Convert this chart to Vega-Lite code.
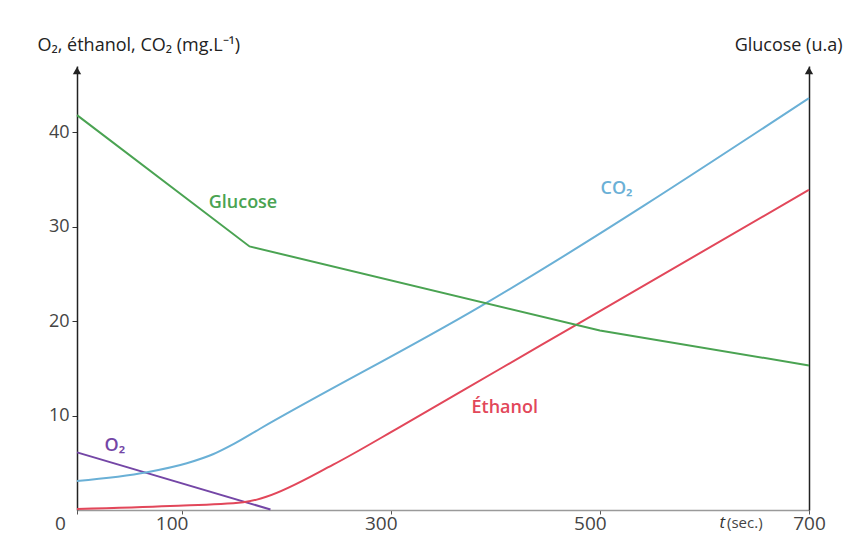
{
  "$schema": "https://vega.github.io/schema/vega-lite/v6.json",
  "width": 732,
  "height": 444,
  "autosize": {"type": "none"},
  "padding": {"left": 77, "top": 66, "right": 50, "bottom": 40},
  "background": "white",
  "config": {
    "font": "Open Sans",
    "view": {"stroke": null},
    "axis": {"grid": false}
  },
  "datasets": {
    "curves": [
      {"t": 0, "value": 6.1, "series": "O2"},
      {"t": 185, "value": 0.05, "series": "O2"},
      {"t": 0, "value": 0.1, "series": "Ethanol"},
      {"t": 89, "value": 0.42, "series": "Ethanol"},
      {"t": 159, "value": 0.82, "series": "Ethanol"},
      {"t": 172, "value": 1.1, "series": "Ethanol"},
      {"t": 181, "value": 1.4, "series": "Ethanol"},
      {"t": 245, "value": 4.8, "series": "Ethanol"},
      {"t": 309, "value": 8.8, "series": "Ethanol"},
      {"t": 404, "value": 14.9, "series": "Ethanol"},
      {"t": 479, "value": 19.7, "series": "Ethanol"},
      {"t": 700, "value": 33.9, "series": "Ethanol"},
      {"t": 0, "value": 3.07, "series": "CO2"},
      {"t": 67, "value": 4.0, "series": "CO2"},
      {"t": 105, "value": 4.95, "series": "CO2"},
      {"t": 130, "value": 5.9, "series": "CO2"},
      {"t": 150, "value": 7.0, "series": "CO2"},
      {"t": 175, "value": 8.6, "series": "CO2"},
      {"t": 385, "value": 21.5, "series": "CO2"},
      {"t": 700, "value": 43.6, "series": "CO2"},
      {"t": 0, "value": 41.8, "series": "Glucose"},
      {"t": 165, "value": 27.9, "series": "Glucose"},
      {"t": 500, "value": 19.0, "series": "Glucose"},
      {"t": 700, "value": 15.3, "series": "Glucose"}
    ],
    "labels": [
      {"t": 158.7, "value": 32.5, "text": "Glucose", "series": "Glucose"},
      {"t": 516, "value": 34.0, "text": "CO₂", "series": "CO2"},
      {"t": 409, "value": 10.8, "text": "Éthanol", "series": "Ethanol"},
      {"t": 36.3, "value": 6.8, "text": "O₂", "series": "O2"}
    ],
    "arrows": [
      {"t": 0, "value": 46.5},
      {"t": 700, "value": 46.5}
    ],
    "unit": [
      {"t": 621.6, "value": 0}
    ]
  },
  "layer": [
    {
      "layer": [
        {
          "data": {"name": "curves"},
          "transform": [{"filter": "datum.series != 'Glucose'"}],
          "mark": {"type": "line", "interpolate": "monotone", "strokeWidth": 2},
          "encoding": {
            "x": {
              "field": "t",
              "type": "quantitative",
              "scale": {"domain": [0, 700], "nice": false, "zero": false},
              "axis": {
                "title": null,
                "values": [0, 100, 300, 500, 700],
                "domainColor": "#9a9a9a",
                "domainWidth": 1.5,
                "tickColor": "#555",
                "tickSize": 4,
                "labelPadding": 0,
                "labelFontSize": 19,
                "labelColor": "#444",
                "labelFlush": false,
                "labelOffset": {
                  "condition": [
                    {"test": "datum.value == 0", "value": -17},
                    {"test": "datum.value == 700", "value": 0}
                  ],
                  "value": -10
                }
              }
            },
            "y": {
              "field": "value",
              "type": "quantitative",
              "scale": {"domain": [0, 47], "nice": false},
              "axis": {
                "values": [10, 20, 30, 40],
                "title": "O₂, éthanol, CO₂ (mg.L⁻¹)",
                "titleAngle": 0,
                "titleX": -40,
                "titleY": -21,
                "titleAlign": "left",
                "titleBaseline": "middle",
                "titleFontSize": 18,
                "titleFontWeight": "normal",
                "titleColor": "#222",
                "domainColor": "#222",
                "domainWidth": 1.5,
                "tickColor": "#333",
                "tickSize": 5,
                "labelPadding": 3,
                "labelFontSize": 18,
                "labelColor": "#444"
              }
            },
            "color": {
              "field": "series",
              "type": "nominal",
              "scale": {
                "domain": ["O2", "Ethanol", "CO2", "Glucose"],
                "range": ["#7446a6", "#e2475a", "#6ab0d6", "#4aa352"]
              },
              "legend": null
            }
          }
        },
        {
          "data": {"name": "labels"},
          "mark": {"type": "text", "fontSize": 18, "fontWeight": 600, "align": "center", "baseline": "middle"},
          "encoding": {
            "x": {"field": "t", "type": "quantitative"},
            "y": {"field": "value", "type": "quantitative"},
            "text": {"field": "text"},
            "color": {
              "field": "series",
              "type": "nominal",
              "scale": {
                "domain": ["O2", "Ethanol", "CO2", "Glucose"],
                "range": ["#7a3fa8", "#e0405a", "#4a90c8", "#3b9a48"]
              },
              "legend": null
            }
          }
        },
        {
          "data": {"name": "arrows"},
          "mark": {"type": "point", "shape": "triangle-up", "filled": true, "size": 70, "color": "#222", "opacity": 1},
          "encoding": {
            "x": {"field": "t", "type": "quantitative"},
            "y": {"field": "value", "type": "quantitative"}
          }
        },
        {
          "data": {"name": "unit"},
          "mark": {"type": "text", "fontSize": 17, "fontStyle": "italic", "align": "right", "baseline": "middle", "dx": -2, "dy": 13, "color": "#333"},
          "encoding": {
            "x": {"field": "t", "type": "quantitative"},
            "y": {"field": "value", "type": "quantitative"},
            "text": {"value": "t"}
          }
        },
        {
          "data": {"name": "unit"},
          "mark": {"type": "text", "fontSize": 15, "align": "left", "baseline": "middle", "dy": 13, "color": "#444"},
          "encoding": {
            "x": {"field": "t", "type": "quantitative"},
            "y": {"field": "value", "type": "quantitative"},
            "text": {"value": "(sec.)"}
          }
        }
      ]
    },
    {
      "data": {"name": "curves"},
      "transform": [{"filter": "datum.series == 'Glucose'"}],
      "mark": {"type": "line", "strokeWidth": 2, "color": "#4aa352"},
      "encoding": {
        "x": {"field": "t", "type": "quantitative"},
        "y": {
          "field": "value",
          "type": "quantitative",
          "scale": {"domain": [0, 47], "nice": false},
          "axis": {
            "orient": "right",
            "title": "Glucose (u.a)",
            "labels": false,
            "ticks": false,
            "domainColor": "#222",
            "domainWidth": 1.5,
            "titleAngle": 0,
            "titleX": 33,
            "titleY": -21,
            "titleAlign": "right",
            "titleBaseline": "middle",
            "titleFontSize": 18,
            "titleFontWeight": "normal",
            "titleColor": "#222"
          }
        }
      }
    }
  ],
  "resolve": {"scale": {"y": "independent"}, "axis": {"y": "independent"}}
}
